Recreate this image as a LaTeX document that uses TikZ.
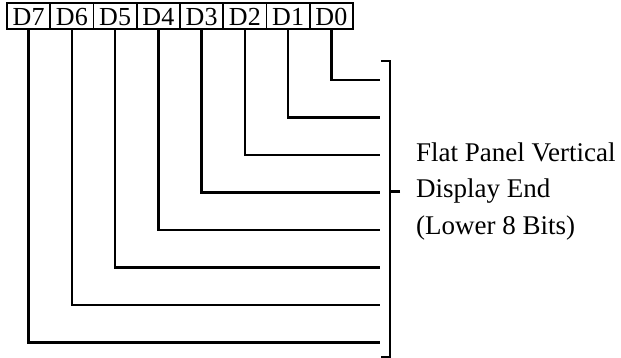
\documentclass[tikz,border=0pt]{standalone}
\usepackage{fontspec}
\setmainfont{Liberation Serif}
\usetikzlibrary{positioning}

\begin{document}
\begin{tikzpicture}[x=1pt,y=-1pt,
      bit/.style={draw,line width=1.8pt,minimum width=43.25pt,minimum height=26pt,inner sep=0pt,
        text height=20pt,text depth=0pt,font=\fontsize{26}{30}\selectfont},
      wire/.style={line width=2.6pt},
      lbl/.style={font=\fontsize{27}{36.5}\selectfont,align=left,inner sep=0pt}]
    \useasboundingbox (0,0) rectangle (621,358);
    \foreach \i in {0,...,7} { \node[bit] (b\i) at ({353-43.25*(\i+0.5)},16) {D\i}; }
    \foreach \i in {0,...,7} { \coordinate (e\i) at (380,{80+37.5*\i}); \draw[wire] (b\i.south) |- (e\i); }
    % bracket
    \coordinate (bt) at (381,61); \coordinate (bb) at (381,357); \coordinate (tk) at (400,191.5);
    \draw[wire] (bt) -- ++(9,0) |- (bb);
    \draw[wire] (tk) -- ++(-10,0);
    \node[lbl,right=16pt of tk] (txt) {Flat Panel Vertical\\Display End\\(Lower 8 Bits)};
  \end{tikzpicture}
\end{document}
